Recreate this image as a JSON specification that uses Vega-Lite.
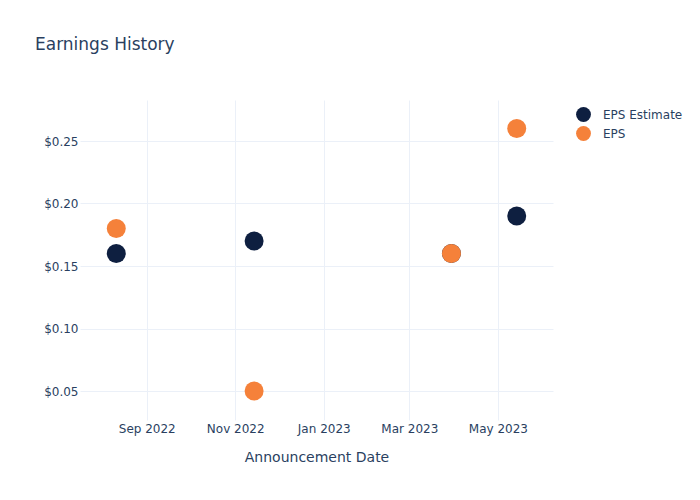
{
  "$schema": "https://vega.github.io/schema/vega-lite/v6.json",
  "autosize": "none",
  "width": 473,
  "height": 320,
  "padding": {"left": 80, "top": 100, "right": 147, "bottom": 80},
  "background": "white",
  "config": {
    "view": {"stroke": null},
    "font": "DejaVu Sans"
  },
  "title": {
    "text": "Earnings History",
    "anchor": "start",
    "frame": "group",
    "dx": -45,
    "dy": -34,
    "baseline": "middle",
    "fontSize": 17,
    "fontWeight": "normal",
    "color": "#2a3f5f",
    "font": "DejaVu Sans"
  },
  "data": {
    "values": [
      {"date": "2022-08-11", "series": "EPS Estimate", "value": 0.16},
      {"date": "2022-11-14", "series": "EPS Estimate", "value": 0.17},
      {"date": "2023-03-30", "series": "EPS Estimate", "value": 0.16},
      {"date": "2023-05-14", "series": "EPS Estimate", "value": 0.19},
      {"date": "2022-08-11", "series": "EPS", "value": 0.18},
      {"date": "2022-11-14", "series": "EPS", "value": 0.05},
      {"date": "2023-03-30", "series": "EPS", "value": 0.16},
      {"date": "2023-05-14", "series": "EPS", "value": 0.26}
    ]
  },
  "mark": {"type": "circle", "size": 360, "opacity": 1},
  "encoding": {
    "x": {
      "field": "date",
      "type": "temporal",
      "title": "Announcement Date",
      "scale": {"domain": ["2022-07-17", "2023-06-08"], "nice": false},
      "axis": {
        "values": ["2022-09-01", "2022-11-01", "2023-01-01", "2023-03-01", "2023-05-01"],
        "format": "%b %Y",
        "labelFont": "DejaVu Sans",
        "labelFontSize": 12,
        "labelColor": "#2a3f5f",
        "labelPadding": 3,
        "titleFont": "DejaVu Sans",
        "titleFontSize": 14,
        "titleFontWeight": "normal",
        "titleColor": "#2a3f5f",
        "titlePadding": 16,
        "domain": false,
        "ticks": false,
        "gridColor": "#ebf0f8",
        "gridWidth": 1
      }
    },
    "y": {
      "field": "value",
      "type": "quantitative",
      "title": null,
      "scale": {"domain": [0.0268, 0.2828], "nice": false, "zero": false},
      "axis": {
        "values": [0.05, 0.1, 0.15, 0.2, 0.25],
        "format": "$.2f",
        "labelFont": "DejaVu Sans",
        "labelFontSize": 12,
        "labelColor": "#2a3f5f",
        "labelPadding": 2,
        "domain": false,
        "ticks": false,
        "gridColor": "#ebf0f8",
        "gridWidth": 1
      }
    },
    "color": {
      "field": "series",
      "type": "nominal",
      "scale": {"domain": ["EPS Estimate", "EPS"], "range": ["#0e1f40", "#f5813a"]},
      "legend": {
        "title": null,
        "orient": "none",
        "legendX": 495,
        "legendY": 6,
        "symbolType": "circle",
        "symbolSize": 220,
        "symbolOpacity": 1,
        "labelFont": "DejaVu Sans",
        "labelFontSize": 12,
        "labelColor": "#2a3f5f",
        "labelOffset": 11,
        "rowPadding": 3
      }
    }
  }
}
